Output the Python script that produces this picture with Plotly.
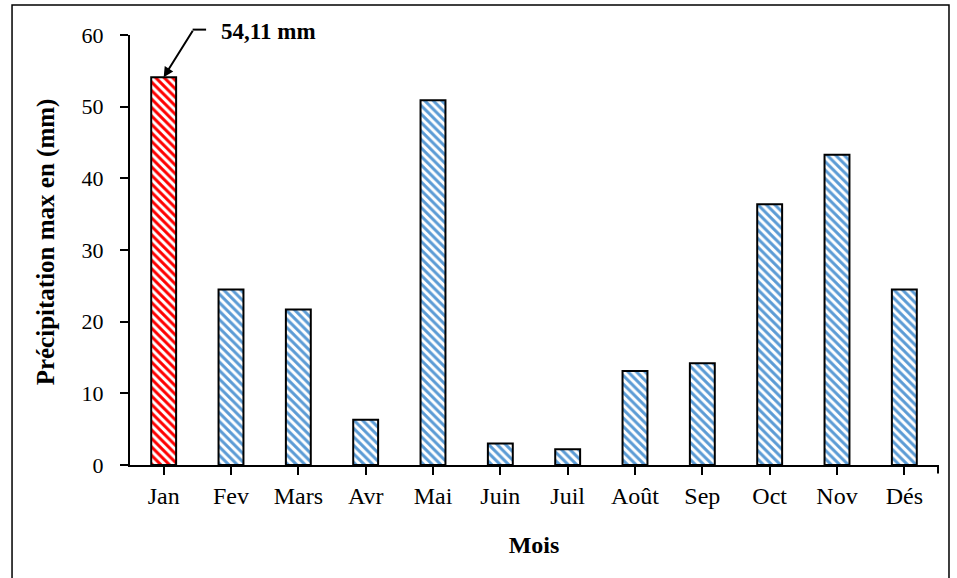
import plotly.graph_objects as go

# Monthly maximum precipitation (mm)
months = ["Jan", "Fev", "Mars", "Avr", "Mai", "Juin", "Juil", "Août", "Sep", "Oct", "Nov", "Dés"]
precip_max = [54.11, 24.5, 21.7, 6.3, 50.9, 3.0, 2.2, 13.1, 14.2, 36.4, 43.3, 24.5]
y_ticks = [0, 10, 20, 30, 40, 50, 60]

FONT = "Liberation Serif"
BLUE = "#5B9BD5"
RED = "#FF0000"
Y_MAX = 60
N = len(months)

# highlight the wettest month in red
peak = max(range(N), key=lambda i: precip_max[i])
stripe_colors = [RED if i == peak else BLUE for i in range(N)]

fig = go.Figure(
    go.Bar(
        x=months,
        y=precip_max,
        width=0.37,
        marker=dict(
            color="white",
            line=dict(color="black", width=2),
            pattern=dict(shape="\\", fgcolor=stripe_colors, bgcolor="white",
                         size=6, solidity=0.5, fillmode="replace"),
        ),
    )
)

peak_label = f"{precip_max[peak]:.2f}".replace(".", ",") + " mm"


def cat_to_paper(offset):
    """Horizontal paper position relative to the peak bar centre (in category units)."""
    return (peak + 0.5 + offset) / N


# callout arrow pointing at the top of the peak bar
fig.add_annotation(
    x=months[peak], y=precip_max[peak], xref="x", yref="y",
    ax=30, ay=-48, showarrow=True, arrowhead=2, arrowsize=1,
    arrowwidth=2, arrowcolor="black", text="",
)
# short horizontal leader of the callout
fig.add_shape(type="line", xref="paper", yref="paper",
              x0=cat_to_paper(0.43), x1=cat_to_paper(0.63),
              y0=60.75 / Y_MAX, y1=60.75 / Y_MAX,
              line=dict(color="black", width=2))
fig.add_annotation(
    x=cat_to_paper(0.82), y=60.5 / Y_MAX, xref="paper", yref="paper",
    xanchor="left", yanchor="middle",
    text=f"<b>{peak_label}</b>", showarrow=False,
    font=dict(family=FONT, size=23, color="black"),
)

# y-axis title
fig.add_annotation(
    x=-0.104, y=0.52, xref="paper", yref="paper",
    xanchor="center", yanchor="middle", textangle=-90, showarrow=False,
    text="<b>Précipitation max en (mm)</b>",
    font=dict(family=FONT, size=25, color="black"),
)

# end tick at the right of the category axis
fig.add_shape(type="line", xref="paper", yref="paper",
              x0=1, x1=1, y0=0, y1=-0.02, line=dict(color="black", width=2))

# outer chart frame
fig.add_shape(type="rect", xref="paper", yref="paper",
              x0=-0.146, x1=1.0136, y0=-0.30, y1=1.0698,
              line=dict(color="black", width=1.5), layer="below")

fig.update_layout(
    width=957, height=578,
    margin=dict(l=130, r=19, t=35, b=113),
    paper_bgcolor="white", plot_bgcolor="white",
    showlegend=False,
    font=dict(family=FONT, size=20, color="black"),
)
fig.update_xaxes(
    showline=True, linecolor="black", linewidth=2,
    ticks="outside", ticklen=8, tickwidth=2, tickcolor="black",
    range=[-0.5, N - 0.5], showgrid=False,
    tickfont=dict(family=FONT, size=24),
    ticklabelstandoff=0,
    title=dict(text="<b>Mois</b>", font=dict(family=FONT, size=24), standoff=28),
)
fig.update_yaxes(
    showline=True, linecolor="black", linewidth=2,
    ticks="outside", ticklen=8, tickwidth=2, tickcolor="black",
    range=[0, Y_MAX], tickvals=y_ticks, showgrid=False, zeroline=False,
    tickfont=dict(family=FONT, size=22),
    ticklabelstandoff=12,
)

fig.write_html("out.html")
